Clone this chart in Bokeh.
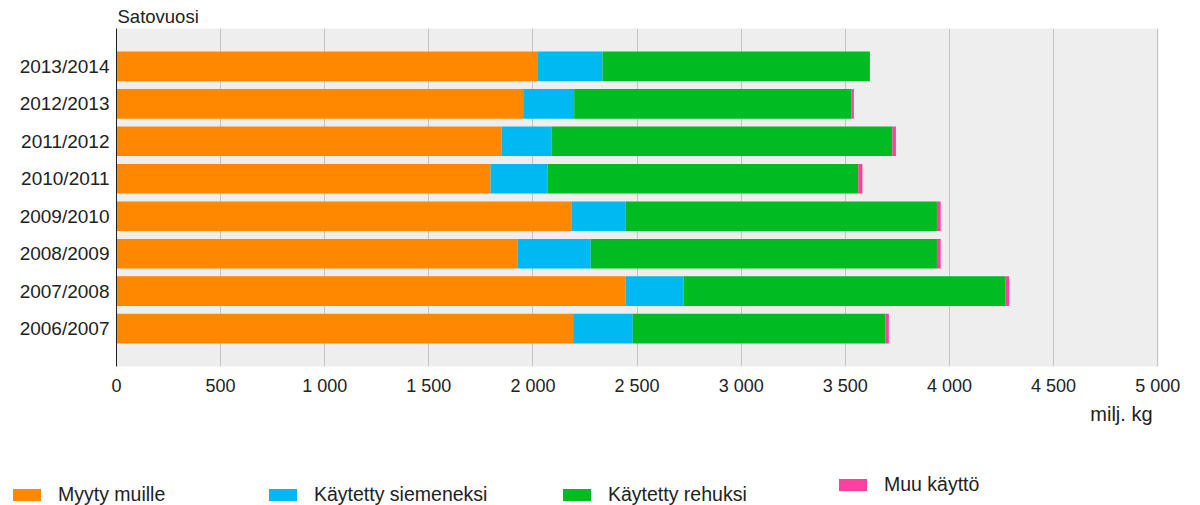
from bokeh.plotting import figure
from bokeh.layouts import column
from bokeh.models import (FactorRange, Range1d, ColumnDataSource, FixedTicker, Legend,
                          LegendItem, Title)
from bokeh.embed import file_html
from bokeh.resources import INLINE

# ---- data (milj. kg) ----
years = ["2006/2007", "2007/2008", "2008/2009", "2009/2010",
         "2010/2011", "2011/2012", "2012/2013", "2013/2014"]
myyty_muille = [2193, 2445, 1927, 2187, 1796, 1849, 1953, 2024]
siemeneksi = [286, 278, 350, 258, 274, 240, 245, 310]
rehuksi = [1213, 1547, 1663, 1495, 1492, 1637, 1332, 1284]
muu_kaytto = [17, 17, 18, 18, 20, 17, 11, 0]

series_names = ["Myyty muille", "Käytetty siemeneksi", "Käytetty rehuksi", "Muu käyttö"]
series_keys = ["myyty", "siemen", "rehu", "muu"]
colors = ["#FF8800", "#00B9F2", "#00BB22", "#FF40A0"]
x_ticks = [0, 500, 1000, 1500, 2000, 2500, 3000, 3500, 4000, 4500, 5000]
x_tick_labels = ["0", "500", "1 000", "1 500", "2 000", "2 500", "3 000",
                 "3 500", "4 000", "4 500", "5 000"]

FONT = "Liberation Sans"
TXT = "#222222"

source = ColumnDataSource(dict(year=years, myyty=myyty_muille, siemen=siemeneksi,
                               rehu=rehuksi, muu=muu_kaytto))

W = 1192
LEFT = 116
p = figure(width=W, height=440, output_backend="svg", toolbar_location=None,
           y_range=FactorRange(factors=years, range_padding=0.128),
           x_range=Range1d(0, 5004),
           min_border_left=LEFT, min_border_right=W - 1158, min_border_top=28,
           min_border_bottom=74)
p.frame_align = False

p.hbar_stack(series_keys, y="year", height=0.79, color=colors,
             line_color=None, source=source)

p.background_fill_color = "#EEEEEE"
p.border_fill_color = "white"
p.outline_line_color = None

p.title.text = "Satovuosi"
p.title.text_font = FONT
p.title.text_font_size = "18.5px"
p.title.text_font_style = "normal"
p.title.text_color = TXT
p.title.align = "left"
p.title.standoff = 3
p.title.offset = 1

p.xgrid.grid_line_color = "#C4C4C4"
p.xgrid.grid_line_width = 1
p.ygrid.grid_line_color = None

p.xaxis.ticker = FixedTicker(ticks=x_ticks)
p.xaxis.major_label_overrides = {t: s for t, s in zip(x_ticks, x_tick_labels)}
p.xaxis.axis_line_color = None
p.xaxis.major_tick_line_color = None
p.xaxis.minor_tick_line_color = None
p.xaxis.major_tick_out = 0
p.xaxis.major_tick_in = 0
p.xaxis.major_label_standoff = 9
p.xaxis.major_label_text_font = FONT
p.xaxis.major_label_text_font_size = "18px"
p.xaxis.major_label_text_color = TXT

p.yaxis.axis_line_color = TXT
p.yaxis.axis_line_width = 1
p.yaxis.major_tick_line_color = None
p.yaxis.minor_tick_line_color = None
p.yaxis.major_tick_out = 0
p.yaxis.major_tick_in = 0
p.yaxis.major_label_standoff = 7
p.yaxis.major_label_text_font = FONT
p.yaxis.major_label_text_font_size = "19px"
p.yaxis.major_label_text_color = TXT

unit_title = Title(text="milj. kg", align="right", text_font=FONT, text_font_size="20px",
                   text_font_style="normal", text_color=TXT, standoff=4, offset=6)
p.add_layout(unit_title, "below")

# ---- legend strip (hidden copies of the stacks supply the legend swatches) ----
q = figure(width=W, height=65, output_backend="svg", toolbar_location=None,
           y_range=FactorRange(factors=years), x_range=Range1d(0, 5004),
           min_border_left=0, min_border_right=0, min_border_top=0,
           min_border_bottom=0)
q.frame_align = False
q.axis.visible = False
q.grid.visible = False
q.outline_line_color = None
q.background_fill_color = "white"
q.border_fill_color = "white"

hidden = q.hbar_stack(series_keys, y="year", height=0.79, color=colors,
                      line_color=None, source=source, visible=False)

legend_x = [9, 265, 559, 835]
legend_y = [-1, -1, -1, 9]
for r, name, lx, ly in zip(hidden, series_names, legend_x, legend_y):
    lg = Legend(items=[LegendItem(label=name, renderers=[r])], location=(lx, ly),
                orientation="horizontal", glyph_width=35, glyph_height=15,
                label_standoff=14, label_height=24, padding=0, margin=0, spacing=0,
                border_line_color=None, background_fill_alpha=0,
                inactive_fill_alpha=0,
                label_text_font=FONT, label_text_font_size="19.5px",
                label_text_color=TXT)
    q.add_layout(lg, "center")

layout = column(p, q, spacing=0)
open("out.html", "w").write(file_html(layout, INLINE))
